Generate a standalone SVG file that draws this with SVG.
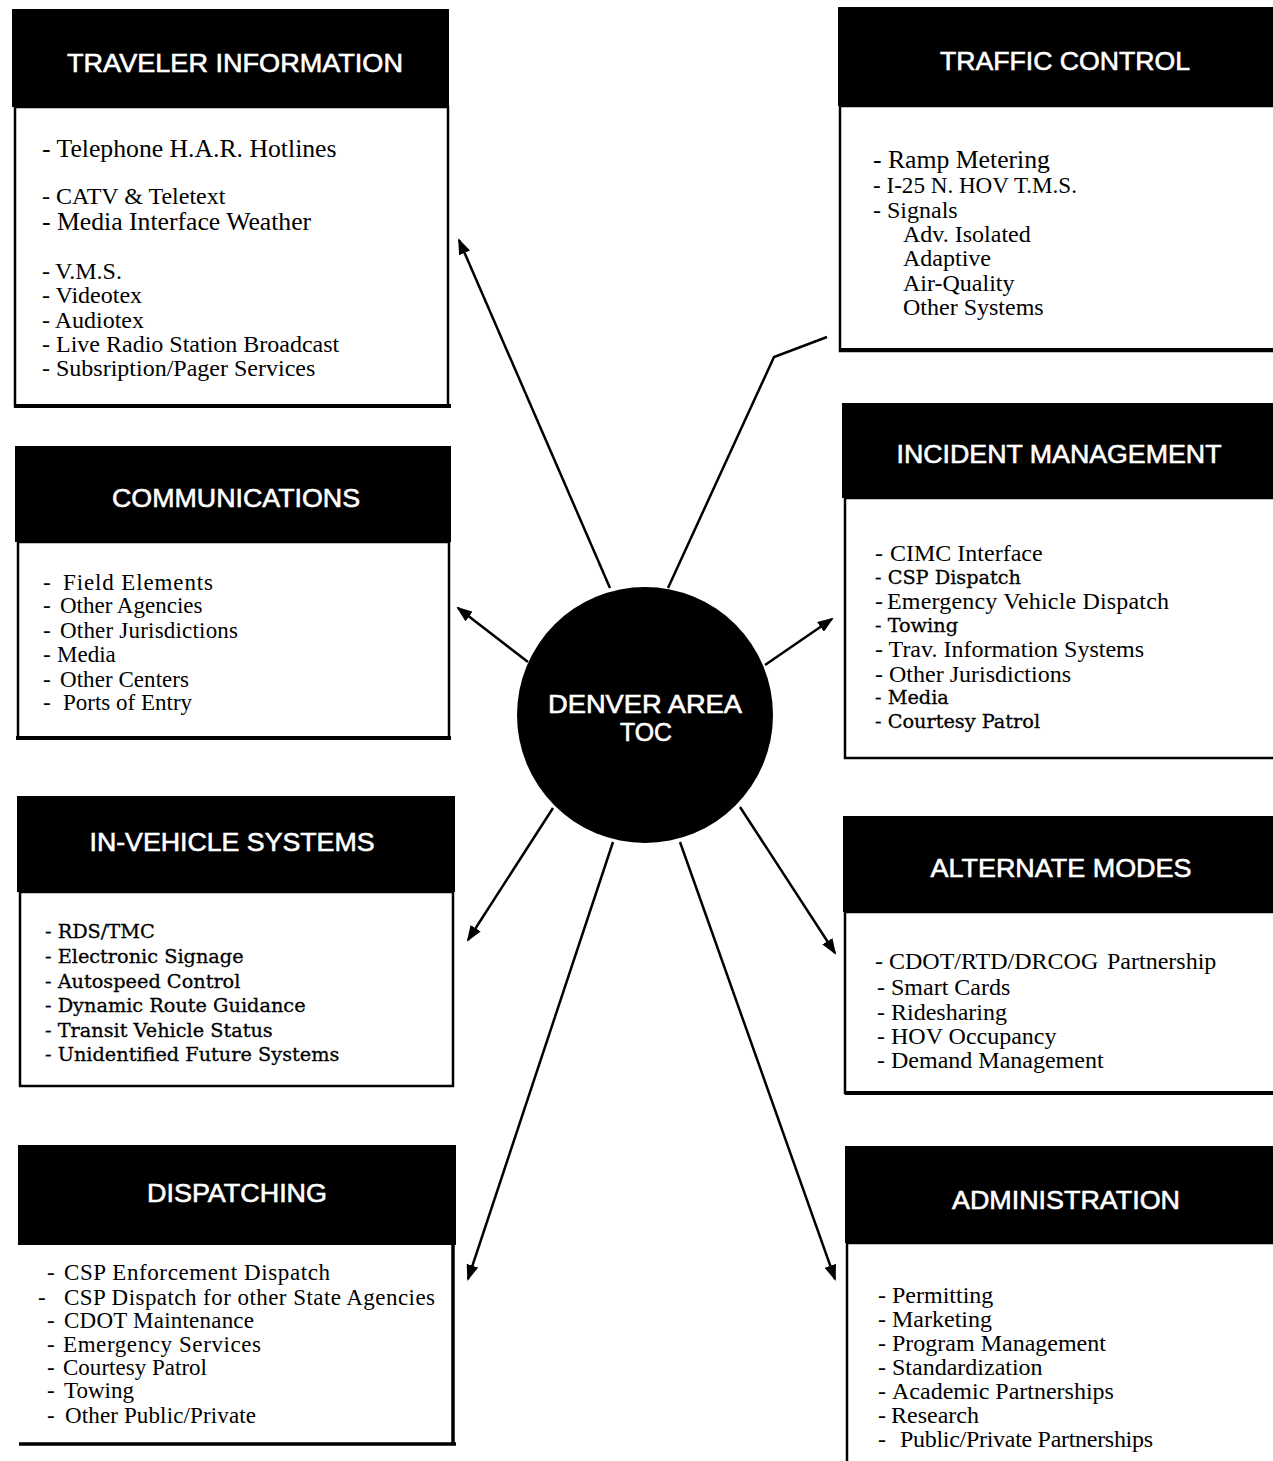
<svg xmlns="http://www.w3.org/2000/svg" width="1273" height="1461" viewBox="0 0 1273 1461">
<style>
.hd{fill:#000}
.bd{fill:#fff;stroke:#000;stroke-width:2.5}
.bl{stroke:#000;stroke-width:4;fill:none}
.ttl{font-family:"Liberation Sans",Arial,sans-serif;font-size:26px;fill:#fff;stroke:#fff;stroke-width:0.6;text-anchor:middle}
.it{font-family:"Liberation Serif","Times New Roman",serif;font-size:24px;fill:#000}
.ig{font-family:"Liberation Serif","Times New Roman",serif;font-size:25.7px;fill:#000}
.is{font-family:"Liberation Serif","Times New Roman",serif;font-size:23px;fill:#000}
.ib{font-family:"DejaVu Serif",serif;font-size:19.3px;fill:#000;stroke:#000;stroke-width:0.3}
.cn{stroke:#000;stroke-width:2.5;fill:none}
</style>
<defs>
<marker id="ah" viewBox="0 0 16 12" refX="14" refY="6" markerWidth="16" markerHeight="12" markerUnits="userSpaceOnUse" orient="auto">
<path d="M0,0 L16,6 L0,12 z" fill="#000"/>
</marker>
</defs>
<rect width="1273" height="1461" fill="#fff"/>

<g id="connectors">
<path class="cn" d="M610,588 L459,240" marker-end="url(#ah)"/>
<path class="cn" d="M668,588 L774,357 L827,337"/>
<path class="cn" d="M528,662 L458,608" marker-end="url(#ah)"/>
<path class="cn" d="M765,665 L832,619" marker-end="url(#ah)"/>
<path class="cn" d="M553,808 L468,940" marker-end="url(#ah)"/>
<path class="cn" d="M740,807 L835,953" marker-end="url(#ah)"/>
<path class="cn" d="M613,842 L468,1279" marker-end="url(#ah)"/>
<path class="cn" d="M680,842 L835,1279" marker-end="url(#ah)"/>
</g>

<g id="toc">
<circle cx="645" cy="715" r="128" fill="#000"/>
<text class="ttl" x="645" y="713" font-size="27" textLength="194" lengthAdjust="spacingAndGlyphs">DENVER AREA</text>
<text class="ttl" x="646" y="741" font-size="27" textLength="52" lengthAdjust="spacingAndGlyphs">TOC</text>
</g>

<g id="traveler-information">
<rect class="bd" x="15" y="107" width="433" height="299"/>
<line class="bl" x1="14" y1="406" x2="451" y2="406"/>
<rect class="hd" x="12" y="9" width="437" height="98"/>
<text class="ttl" x="235" y="72" textLength="336" lengthAdjust="spacingAndGlyphs">TRAVELER INFORMATION</text>
<text class="ig" x="42" y="157">- Telephone H.A.R. Hotlines</text>
<text class="it" x="42" y="204">- CATV &amp; Teletext</text>
<text class="ig" x="42" y="230">- Media Interface Weather</text>
<text class="it" x="42" y="279">- <tspan x="55">V.M.S.</tspan></text>
<text class="it" x="42" y="303">- Videotex</text>
<text class="it" x="42" y="328">- Audiotex</text>
<text class="it" x="42" y="352">- Live Radio Station Broadcast</text>
<text class="it" x="42" y="376">- Subsription/Pager Services</text>
</g>

<g id="traffic-control">
<rect class="bd" x="840" y="106" width="440" height="245"/>
<line class="bl" x1="840" y1="350" x2="1273" y2="350"/>
<rect class="hd" x="838" y="7" width="440" height="99"/>
<text class="ttl" x="1065" y="70" textLength="250" lengthAdjust="spacingAndGlyphs">TRAFFIC CONTROL</text>
<text class="ig" x="873" y="168">- Ramp Metering</text>
<text class="it" x="873" y="193" textLength="204" lengthAdjust="spacingAndGlyphs">- I-25 N. HOV T.M.S.</text>
<text class="it" x="873" y="218">- <tspan x="887">Signals</tspan></text>
<text class="it" x="903" y="242">Adv. Isolated</text>
<text class="it" x="903" y="266">Adaptive</text>
<text class="it" x="903" y="291">Air-Quality</text>
<text class="it" x="903" y="315">Other Systems</text>
</g>

<g id="communications">
<rect class="bd" x="18" y="542" width="431" height="196"/>
<line class="bl" x1="16" y1="738" x2="451" y2="738"/>
<rect class="hd" x="15" y="446" width="436" height="96"/>
<text class="ttl" x="236" y="507" textLength="248" lengthAdjust="spacingAndGlyphs">COMMUNICATIONS</text>
<text class="is" x="43" y="590">- <tspan x="63" textLength="150">Field Elements</tspan></text>
<text class="is" x="43" y="613">- <tspan x="60">Other Agencies</tspan></text>
<text class="is" x="43" y="638">- <tspan x="60" textLength="178">Other Jurisdictions</tspan></text>
<text class="is" x="43" y="662">- <tspan x="57">Media</tspan></text>
<text class="is" x="43" y="687">- <tspan x="60" textLength="129">Other Centers</tspan></text>
<text class="is" x="43" y="710">- <tspan x="63">Ports of Entry</tspan></text>
</g>

<g id="incident-management">
<rect class="bd" x="845" y="498" width="440" height="260"/>
<rect class="hd" x="842" y="403" width="440" height="95"/>
<text class="ttl" x="1059" y="463" textLength="325" lengthAdjust="spacingAndGlyphs">INCIDENT MANAGEMENT</text>
<text class="it" x="875" y="561">- <tspan x="890">CIMC Interface</tspan></text>
<text class="ib" x="875" y="584">- CSP Dispatch</text>
<text class="it" x="875" y="609">- <tspan x="887" textLength="282">Emergency Vehicle Dispatch</tspan></text>
<text class="ib" x="875" y="632">- Towing</text>
<text class="it" x="875" y="657">- Trav. Information Systems</text>
<text class="it" x="875" y="682">- Other Jurisdictions</text>
<text class="ib" x="875" y="704">- Media</text>
<text class="ib" x="875" y="728">- Courtesy Patrol</text>
</g>

<g id="in-vehicle-systems">
<rect class="bd" x="20" y="892" width="433" height="194"/>
<rect class="hd" x="17" y="796" width="438" height="96"/>
<text class="ttl" x="232" y="851" textLength="285" lengthAdjust="spacingAndGlyphs">IN-VEHICLE SYSTEMS</text>
<text class="ib" x="45" y="938">- RDS/TMC</text>
<text class="ib" x="45" y="963">- Electronic Signage</text>
<text class="ib" x="45" y="988">- Autospeed Control</text>
<text class="ib" x="45" y="1012">- Dynamic Route Guidance</text>
<text class="ib" x="45" y="1037">- Transit Vehicle Status</text>
<text class="ib" x="45" y="1061">- Unidentified Future Systems</text>
</g>

<g id="alternate-modes">
<rect class="bd" x="845" y="912" width="440" height="181"/>
<line class="bl" x1="845" y1="1093" x2="1273" y2="1093"/>
<rect class="hd" x="843" y="816" width="440" height="96"/>
<text class="ttl" x="1061" y="877" textLength="261" lengthAdjust="spacingAndGlyphs">ALTERNATE MODES</text>
<text class="it" x="875" y="969">- CDOT/RTD/DRCOG<tspan x="1107">Partnership</tspan></text>
<text class="it" x="877" y="995">- Smart Cards</text>
<text class="it" x="877" y="1020">- Ridesharing</text>
<text class="it" x="877" y="1044">- HOV Occupancy</text>
<text class="it" x="877" y="1068">- Demand Management</text>
</g>

<g id="dispatching">
<rect x="20" y="1245" width="433" height="199" fill="#fff"/>
<path d="M453,1245 L453,1444 M19,1444 L456,1444" stroke="#000" stroke-width="3.5" fill="none"/>
<rect class="hd" x="18" y="1145" width="438" height="100"/>
<text class="ttl" x="237" y="1202" textLength="180" lengthAdjust="spacingAndGlyphs">DISPATCHING</text>
<text class="is" x="47" y="1280">- <tspan x="64" textLength="266">CSP Enforcement Dispatch</tspan></text>
<text class="is" x="38" y="1305">- <tspan x="64" textLength="371">CSP Dispatch for other State Agencies</tspan></text>
<text class="is" x="47" y="1328">- <tspan x="64" textLength="190">CDOT Maintenance</tspan></text>
<text class="is" x="47" y="1352">- <tspan x="63" textLength="198">Emergency Services</tspan></text>
<text class="is" x="47" y="1375">- <tspan x="63" textLength="144">Courtesy Patrol</tspan></text>
<text class="is" x="47" y="1398">- <tspan x="64">Towing</tspan></text>
<text class="is" x="47" y="1423">- <tspan x="65" textLength="191">Other Public/Private</tspan></text>
</g>

<g id="administration">
<rect class="bd" x="847" y="1243" width="440" height="240"/>
<rect class="hd" x="845" y="1146" width="440" height="97"/>
<text class="ttl" x="1066" y="1209" textLength="228" lengthAdjust="spacingAndGlyphs">ADMINISTRATION</text>
<text class="it" x="878" y="1303">- <tspan x="892">Permitting</tspan></text>
<text class="it" x="878" y="1327">- <tspan x="892">Marketing</tspan></text>
<text class="it" x="878" y="1351">- <tspan x="892">Program Management</tspan></text>
<text class="it" x="878" y="1375">- <tspan x="892">Standardization</tspan></text>
<text class="it" x="878" y="1399">- <tspan x="892">Academic Partnerships</tspan></text>
<text class="it" x="878" y="1423">- <tspan x="891">Research</tspan></text>
<text class="it" x="878" y="1447">- <tspan x="900" textLength="253">Public/Private Partnerships</tspan></text>
</g>
</svg>
